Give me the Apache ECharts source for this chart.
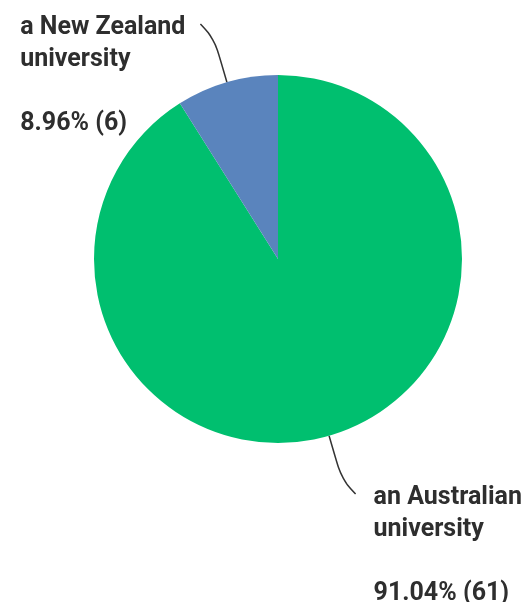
<!DOCTYPE html>
<html>
<head>
<meta charset="utf-8">
<style>
  html, body { margin: 0; padding: 0; background: #ffffff; }
  #chart { width: 529px; height: 602px; }
</style>
<script src="https://cdn.jsdelivr.net/npm/echarts@6/dist/echarts.min.js"></script>
</head>
<body>
<div id="chart"></div>
<script>
// Survey answers: where the respondent studied
const categories = ['an Australian university', 'a New Zealand university'];
const responses = [61, 6];
const sliceColors = ['#00bf6f', '#5a84bd'];

const chart = echarts.init(document.getElementById('chart'), null, { renderer: 'canvas' });

const LINE_H = 32;

// Split the answer text into two lines before its last word,
// then a blank line and the share with its count.
function labelText(p) {
  const cut = p.name.lastIndexOf(' ');
  return p.name.slice(0, cut) + '\n' + p.name.slice(cut + 1) +
    '\n\n' + p.percent.toFixed(2) + '% (' + p.value + ')';
}

chart.setOption({
  animation: false,
  series: [{
    type: 'pie',
    center: [278, 259],
    radius: 184,
    startAngle: 90,
    clockwise: true,
    percentPrecision: 2,
    data: categories.map((name, i) => ({
      name: name,
      value: responses[i],
      itemStyle: { color: sliceColors[i] }
    })),
    itemStyle: { borderWidth: 0 },
    label: {
      show: true,
      position: 'outside',
      formatter: labelText,
      fontFamily: 'Roboto',
      fontWeight: 'bold',
      fontSize: 25,
      lineHeight: LINE_H,
      color: '#2e2e2e'
    },
    labelLine: {
      show: true,
      length: 45,
      length2: 14,
      smooth: 0.4,
      lineStyle: { color: '#333333', width: 1.5 }
    },
    emphasis: { disabled: true },
    // Leader line runs out along the slice's middle ray, then hooks away;
    // the text block hangs from the hook with its first line centred on it.
    labelLayout: function (params) {
      const pts = params.labelLinePoints;
      if (!pts) return {};
      const p0 = [pts[0][0], pts[0][1]];
      const dx = pts[1][0] - p0[0];
      const dy = pts[1][1] - p0[1];
      const len = Math.sqrt(dx * dx + dy * dy) || 1;
      const ux = dx / len, uy = dy / len;
      const p1 = [p0[0] + ux * 45, p0[1] + uy * 45];
      const sx = ux < 0 ? -1 : 1;
      const sy = uy < 0 ? -1 : 1;
      const p2 = [p1[0] + sx * 14, p1[1] + sy * 15];
      const w = params.labelRect.width;
      const x = sx < 0 ? p2[0] - 15 - w : p2[0] + 18;
      return {
        x: x,
        y: p2[1] - LINE_H / 2 + 4,
        align: 'left',
        verticalAlign: 'top',
        labelLinePoints: [p0, p1, p2]
      };
    }
  }]
});
</script>
</body>
</html>
